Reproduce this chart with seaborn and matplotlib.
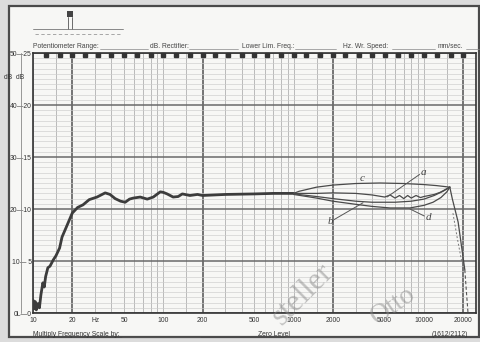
import matplotlib.pyplot as plt
import seaborn as sns
from matplotlib.lines import Line2D
from matplotlib.patches import Rectangle
import warnings
warnings.filterwarnings("ignore")

freq_main = [10, 10.2, 10.4, 10.6, 10.9, 11.2, 11.5, 11.9, 12.2, 12.5, 13.0, 13.5,
             14.3, 15.0, 16.0, 16.7, 18, 20, 22, 24.2, 27, 31, 35.8, 39, 42.7,
             47, 51, 55, 58.8, 66.5, 75.3, 83.8, 94.8, 100, 107, 119, 130, 140,
             160, 183, 200, 300, 500, 700, 1000]
db_main = [2.5, 0.8, 2.2, 0.6, 1.8, 1.0, 3.5, 5.8, 5.0, 7.0, 8.7, 9.0,
           10.2, 11.0, 12.5, 14.6, 16.5, 19.2, 20.3, 20.8, 21.8, 22.3, 23.1, 22.8, 22.0,
           21.5, 21.3, 21.9, 22.1, 22.3, 21.9, 22.3, 23.3, 23.2, 22.9, 22.3, 22.4, 22.9,
           22.6, 22.8, 22.6, 22.8, 22.9, 23.0, 23.0]

freq_c = [1000, 1100, 1500, 2000, 3000, 4600, 7000, 10000, 12500, 15800]
db_c = [23.0, 23.4, 24.2, 24.6, 24.9, 25.0, 24.9, 24.7, 24.5, 24.2]

freq_a = [1000, 1500, 2000, 3000, 4000, 5000, 5500, 6000, 6500, 7000, 7500, 8000,
          8700, 9400, 10000, 12000, 13300, 15800]
db_a = [23.0, 23.0, 23.1, 23.0, 22.7, 22.3, 22.7, 22.1, 22.6, 22.0, 22.6, 22.1,
        22.6, 22.2, 22.4, 22.8, 23.2, 24.2]

freq_b = [1000, 1500, 2000, 3000, 4000, 6000, 8000, 10000, 12000, 14000, 15800]
db_b = [22.9, 22.4, 22.0, 21.5, 21.3, 21.3, 21.5, 21.9, 22.6, 23.4, 24.2]

freq_d = [1000, 1500, 2000, 3000, 4000, 5500, 7800, 10000, 11750, 13500, 15000, 15800]
db_d = [22.8, 22.1, 21.5, 20.9, 20.5, 20.2, 20.2, 20.7, 21.3, 22.2, 23.3, 24.2]

freq_queda = [15800, 16500, 18300, 20600]
db_queda = [24.2, 22.0, 17.5, 8.3]
freq_queda_trac = [20600, 21200, 21800]
db_queda_trac = [8.3, 4.0, 0.0]
freq_queda_trac2 = [16700, 18000, 19600]
db_queda_trac2 = [19.2, 14.5, 9.6]

xticks = [10, 20, 30, 50, 100, 200, 500, 1000, 2000, 5000, 10000, 20000]
xlabels = ["10", "20", "Hz", "50", "100", "200", "500", "1000", "2000", "5000", "10000", "20000"]
yticks = [0, 10, 20, 30, 40, 50]
ylabels = ["0L—0", "10— 5", "20—10", "30—15", "40—20", "50—25"]

# marcas de terço de oitava no topo
terco_oitava = [12.5, 16, 20, 25, 31.5, 40, 50, 63, 80, 100, 125, 160, 200, 250, 315,
                400, 500, 630, 800, 1000, 1250, 1600, 2000, 2500, 3150, 4000, 5000,
                6300, 8000, 10000, 12500, 16000, 20000]

# letras escritas à mão: (texto, pos. texto, alvo)
letras = [("c", (3350, 25.8), None),
          ("a", (9840, 27.1), (5210, 22.3)),
          ("b", (1900, 17.5), (3410, 21.2)),
          ("d", (10750, 18.3), (7820, 20.0))]

PAPEL = "#f7f7f5"
GRADE = "#b0b0b0"
GRADE_F = "#6a6a6a"
TINTA = "#3c3c3c"
FS = 4.9

sns.set_style("white")
plt.rcParams["font.family"] = ["Liberation Sans", "DejaVu Sans"]

fig = plt.figure(figsize=(4.8, 3.42), dpi=100, facecolor="#dcdcdc")
fig.add_artist(Rectangle((9 / 480, 5 / 342), 470 / 480, 331 / 342, transform=fig.transFigure,
                         facecolor=PAPEL, edgecolor="#4a4a4a", lw=1.6, zorder=0))

ax = fig.add_axes([33 / 480, 1 - 313 / 342, (476 - 33) / 480, (313 - 53) / 342])
ax.set_facecolor(PAPEL)
ax.set_xscale("log")
ax.set_xlim(10, 25100)
ax.set_ylim(0, 50)

# --- grade do papel ---
for dec in [10, 100, 1000, 10000]:
    for m in [1, 1.5, 2, 3, 4, 5, 6, 7, 8, 9]:
        f = dec * m
        if f > 25000:
            continue
        forte = m == 2
        ax.axvline(f, color=GRADE_F if forte else GRADE, lw=1.3 if forte else 0.6, zorder=1)
for v in range(0, 51):
    forte = v % 10 == 0
    ax.axhline(v, color=GRADE_F if forte else "#cdcdcd", lw=1.1 if forte else 0.45, zorder=1)

ax.plot(terco_oitava, [49.6] * len(terco_oitava), ls="none", marker="s", ms=2.2,
        color="#333", zorder=3, clip_on=False)

# --- curvas ---
sns.lineplot(x=freq_main, y=db_main, ax=ax, color=TINTA, lw=2.0, zorder=5, sort=False)
for fr, db in [(freq_c, db_c), (freq_a, db_a), (freq_b, db_b), (freq_d, db_d)]:
    sns.lineplot(x=fr, y=db, ax=ax, color="#4a4a4a", lw=0.9, zorder=5, sort=False)
sns.lineplot(x=freq_queda, y=db_queda, ax=ax, color="#4a4a4a", lw=0.9, zorder=5, sort=False)
sns.lineplot(x=freq_queda_trac, y=db_queda_trac, ax=ax, color="#555", lw=0.8,
             ls=(0, (3, 2)), zorder=5, sort=False)
sns.lineplot(x=freq_queda_trac2, y=db_queda_trac2, ax=ax, color="#777", lw=0.7,
             ls=(0, (2, 2)), zorder=5, sort=False)

for txt, pos, alvo in letras:
    ax.text(pos[0], pos[1], txt, fontsize=8, style="italic", family="Liberation Serif",
            color="#444", ha="center", va="center", zorder=6)
    if alvo is not None:
        ax.annotate("", xy=alvo, xytext=pos,
                    arrowprops=dict(arrowstyle="-", color="#555", lw=0.7,
                                    shrinkA=3, shrinkB=0), zorder=6)

# --- eixos ---
ax.set_xticks(xticks)
ax.set_xticklabels(xlabels)
ax.xaxis.set_minor_locator(plt.NullLocator())
ax.set_yticks(yticks)
ax.set_yticklabels(ylabels)
ax.tick_params(length=0, labelsize=FS, colors="#333", pad=3)
ax.tick_params(axis="y", pad=1)
ax.set_xlabel("")
ax.set_ylabel("")
for s in ax.spines.values():
    s.set_color("#333")
    s.set_linewidth(1.2)

ax.text(-0.066, 45.3, "dB  dB", transform=ax.get_yaxis_transform(), fontsize=FS,
        color="#333", ha="left", va="center")
ax.add_line(Line2D([-0.028, -0.028], [0, 50], transform=ax.get_yaxis_transform(),
                   color="#888", lw=0.6, clip_on=False))

# --- cabeçalho e rodapé do formulário ---
campos = [("Potentiometer Range:", 33, 100, 148),
          ("dB. Rectifier:", 150, 189, 238),
          ("Lower Lim. Freq.:", 242, 295, 336),
          ("Hz. Wr. Speed:", 343, 392, 435),
          ("mm/sec.", 438, 466, 479)]
for txt, x0, l0, l1 in campos:
    fig.text(x0 / 480, 1 - 46 / 342, txt, fontsize=FS, color="#444", va="center")
    fig.add_artist(Line2D([l0 / 480, l1 / 480], [1 - 49 / 342] * 2, color="#888", lw=0.5))

fig.text(33 / 480, 1 - 334 / 342, "Multiply Frequency Scale by:", fontsize=FS,
         color="#333", va="center")
fig.add_artist(Line2D([122 / 480, 200 / 480], [1 - 337 / 342] * 2, color="#555", lw=0.5))
fig.text(258 / 480, 1 - 334 / 342, "Zero Level", fontsize=FS, color="#333", va="center")
fig.add_artist(Line2D([285 / 480, 420 / 480], [1 - 337 / 342] * 2, color="#555", lw=0.5))
fig.text(432 / 480, 1 - 334 / 342, "(1612/2112)", fontsize=FS, color="#333", va="center")

# pequeno símbolo no topo
fig.add_artist(Rectangle((67 / 480, 1 - 17 / 342), 6 / 480, 6 / 342,
                         facecolor="#444", edgecolor="none"))
for xx in [68, 72]:
    fig.add_artist(Line2D([xx / 480] * 2, [1 - 17 / 342, 1 - 29 / 342], color="#555", lw=0.6))
fig.add_artist(Line2D([33 / 480, 123 / 480], [1 - 29 / 342] * 2, color="#777", lw=0.6))
fig.add_artist(Line2D([35 / 480, 120 / 480], [1 - 34 / 342] * 2, color="#999", lw=0.6,
                      ls=(0, (4, 3))))

# marca d'água
fig.text(303 / 480, 1 - 294 / 342, "steller", fontsize=22, family="Liberation Serif",
         color="#8a8a8a", alpha=0.5, rotation=45, ha="center", va="center")
fig.text(393 / 480, 1 - 306 / 342, "Otto", fontsize=20, family="Liberation Serif",
         color="#8a8a8a", alpha=0.5, rotation=35, ha="center", va="center")

plt.savefig("out.png", dpi=100, facecolor=fig.get_facecolor())
